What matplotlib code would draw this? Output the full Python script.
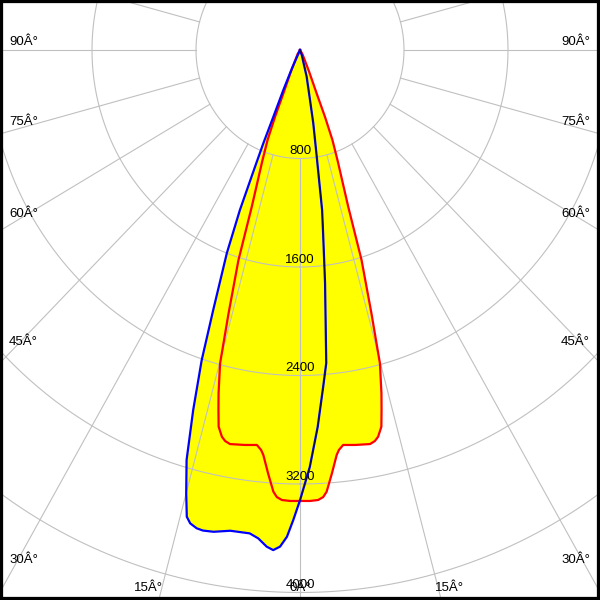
import numpy as np
import matplotlib
matplotlib.use('Agg')
import matplotlib.pyplot as plt

# intensity (cd) vs angle from nadir (deg), left side negative
blue_angles = [-90, -26, -24.5, -23.5, -22.6, -22.3, -21.9, -21.4, -20.6, -19.2, -18.3,
               -17.2, -16.1, -15.0, -14.2, -13.6, -12.7, -11.9, -10.6, -8.6, -6.2, -5.1,
               -4.0, -3.2, -2.4, -1.6, -0.85, 0, 1.4, 2.8, 4.1, 5.0, 6.4, 7.5, 8.2, 9.3,
               10.7, 11.8, 14.6, 20, 90]
blue_values = [0, 0, 150, 321, 533, 744, 927, 1267, 1599, 2030, 2408,
               2778, 3146, 3382, 3550, 3591, 3615, 3621, 3614, 3585, 3585, 3615,
               3671, 3693, 3665, 3590, 3465, 3320, 3076, 2783, 2491, 2317, 1729, 1361, 1192, 797,
               550, 377, 203, 40, 0]

red_angles = [-90, -32, -23.7, -21.8, -21.3, -20.6, -19.5, -17.8, -17.0, -15.8, -14.9,
              -13.9, -13.3, -12.7, -11.9, -11.3, -10.5, -8.3, -6.5, -5.8, -5.4, -4.5,
              -3.6, -3.1, -2.4, -1.3, 0, 1.3, 2.4, 3.1, 3.6, 4.5, 5.4, 5.8, 6.5, 8.3,
              10.5, 11.3, 11.9, 12.7, 13.3, 13.9, 14.9, 15.8, 17.0, 17.8, 19.5, 20.6, 21.3,
              21.8, 23.7, 32, 90]
red_values = [0, 35, 175, 345, 530, 710, 870, 1214, 1619, 2019, 2391,
              2608, 2727, 2847, 2914, 2940, 2955, 2943, 2931, 2964, 2999, 3131,
              3263, 3301, 3321, 3326, 3325, 3326, 3321, 3301, 3263, 3131, 2999, 2964, 2931, 2943,
              2955, 2940, 2914, 2847, 2727, 2608, 2391, 2019, 1619, 1214, 870, 710, 530,
              345, 175, 35, 0]

ring_values = [800, 1600, 2400, 3200, 4000, 4800]
ring_labels = ['800', '1600', '2400', '3200', '4000']
side_labels = ['90Â°', '75Â°', '60Â°', '45Â°', '30Â°']
bottom_labels = ['15Â°', '0Â°', '15Â°']

# pixels per cd (the picture is slightly stretched vertically)
sx = 104 / 800
sy = 108.5 / 800
font = ['Liberation Sans Narrow', 'Liberation Sans', 'DejaVu Sans']


def to_xy(ang, val):
    a = np.radians(np.asarray(ang, dtype=float))
    v = np.asarray(val, dtype=float)
    return v * np.sin(a), -v * np.cos(a)


fig = plt.figure(figsize=(6, 6), dpi=100)
ax = fig.add_axes([0, 0, 1, 1])
ax.set_xlim(-300 / sx, 300 / sx)
ax.set_ylim(-550 / sy, 50 / sy)

bx, by = to_xy(blue_angles, blue_values)
rx, ry = to_xy(red_angles, red_values)
ax.fill(bx, by, color='#ffff00', lw=0, zorder=1)
ax.fill(rx, ry, color='#ffff00', lw=0, zorder=1)

# grid
t = np.linspace(0, 360, 721)
for r in ring_values:
    gx, gy = to_xy(t, np.full_like(t, r))
    ax.plot(gx, gy, color='#c0c0c0', lw=0.8, zorder=2)
for a in range(0, 360, 15):
    gx, gy = to_xy([a, a], [800, 8000])
    ax.plot(gx, gy, color='#c0c0c0', lw=0.8, zorder=2)

for r, lab in zip(ring_values, ring_labels):
    ax.text(0, -r + 8, lab, ha='center', va='bottom', fontsize=9.5,
            family=font, zorder=3)

side_y = [42, 122, 214, 342, 560]
for lab, y in zip(side_labels, side_y):
    ax.text(9 / 600, 1 - y / 600, lab, ha='left', va='center', fontsize=9.5,
            family=font, transform=ax.transAxes, zorder=3)
    ax.text(590 / 600, 1 - y / 600, lab, ha='right', va='center', fontsize=9.5,
            family=font, transform=ax.transAxes, zorder=3)

bottom_x = [163, 300, 435]
bottom_ha = ['right', 'center', 'left']
for lab, x, ha in zip(bottom_labels, bottom_x, bottom_ha):
    ax.text(x / 600, 1 - 588 / 600, lab, ha=ha, va='center', fontsize=9.5,
            family=font, transform=ax.transAxes, zorder=3)

ax.plot(rx, ry, color='#ff0000', lw=1.6, zorder=4)
ax.plot(bx, by, color='#0000ff', lw=1.6, zorder=5)
right = np.asarray(blue_angles) >= 0
ax.plot(bx[right], by[right], color='#101030', lw=0.7, zorder=6)

ax.set_xticks([])
ax.set_yticks([])
for s in ax.spines.values():
    s.set_linewidth(4.5)
    s.set_color('black')

fig.savefig('out.png', dpi=100)
